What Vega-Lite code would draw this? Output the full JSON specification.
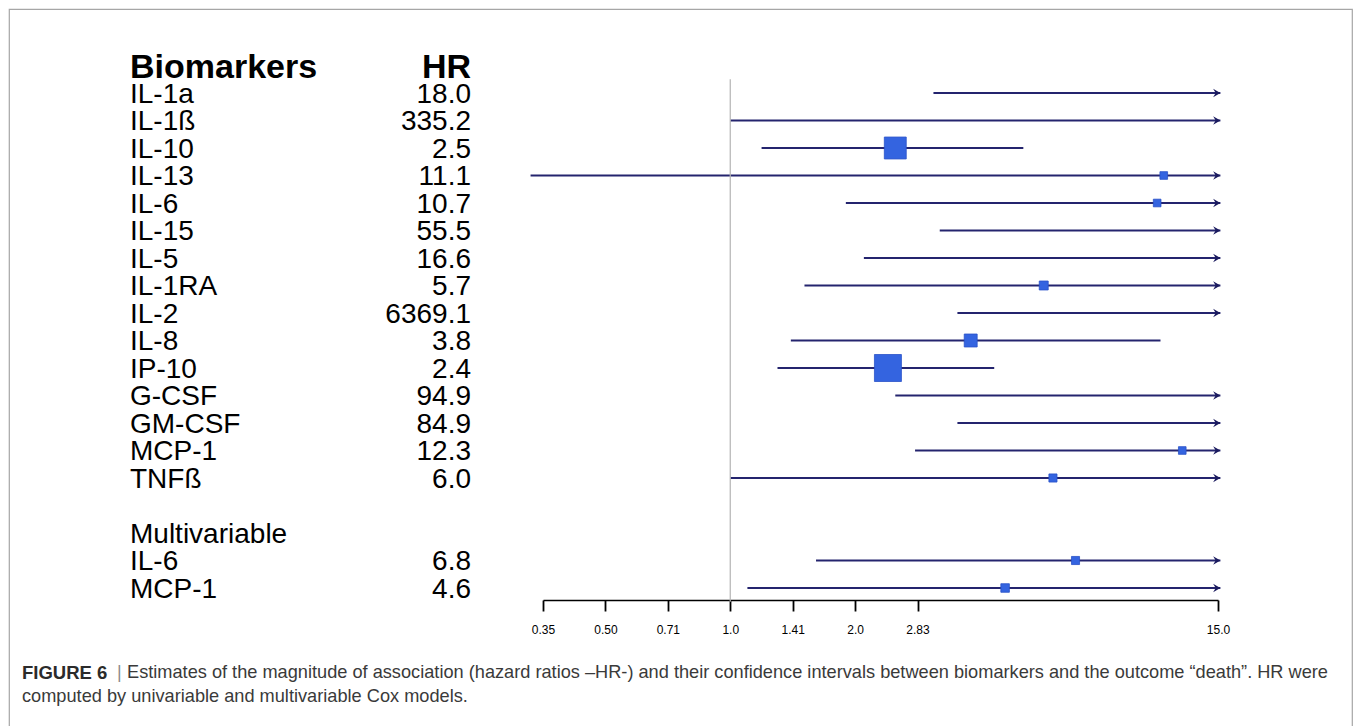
{
  "$schema": "https://vega.github.io/schema/vega-lite/v6.json",
  "width": 1343,
  "height": 740,
  "autosize": "none",
  "padding": {"left": 9, "top": 9, "right": 3, "bottom": 0},
  "background": "white",
  "config": {
    "view": {"stroke": "#a6a6a6", "strokeWidth": 1.2},
    "font": "Liberation Sans"
  },
  "datasets": {
    "rows": [
      {"id": "header", "label": "Biomarkers", "kind": "header"},
      {"id": "IL-1a", "label": "IL-1a", "kind": "item", "est": 18.0, "lo": 3.09, "open": true},
      {"id": "IL-1ß", "label": "IL-1ß", "kind": "item", "est": 335.2, "lo": 1.0, "open": true},
      {"id": "IL-10", "label": "IL-10", "kind": "item", "est": 2.5, "lo": 1.19, "hi": 5.09, "open": false, "w": 0.66},
      {"id": "IL-13", "label": "IL-13", "kind": "item", "est": 11.1, "lo": 0.33, "open": true, "w": 0.08},
      {"id": "IL-6", "label": "IL-6", "kind": "item", "est": 10.7, "lo": 1.9, "open": true, "w": 0.08},
      {"id": "IL-15", "label": "IL-15", "kind": "item", "est": 55.5, "lo": 3.2, "open": true},
      {"id": "IL-5", "label": "IL-5", "kind": "item", "est": 16.6, "lo": 2.1, "open": true},
      {"id": "IL-1RA", "label": "IL-1RA", "kind": "item", "est": 5.7, "lo": 1.51, "open": true, "w": 0.11},
      {"id": "IL-2", "label": "IL-2", "kind": "item", "est": 6369.1, "lo": 3.53, "open": true},
      {"id": "IL-8", "label": "IL-8", "kind": "item", "est": 3.8, "lo": 1.4, "hi": 10.9, "open": false, "w": 0.23},
      {"id": "IP-10", "label": "IP-10", "kind": "item", "est": 2.4, "lo": 1.3, "hi": 4.33, "open": false, "w": 1.0},
      {"id": "G-CSF", "label": "G-CSF", "kind": "item", "est": 94.9, "lo": 2.5, "open": true},
      {"id": "GM-CSF", "label": "GM-CSF", "kind": "item", "est": 84.9, "lo": 3.53, "open": true},
      {"id": "MCP-1", "label": "MCP-1", "kind": "item", "est": 12.3, "lo": 2.79, "open": true, "w": 0.08},
      {"id": "TNFß", "label": "TNFß", "kind": "item", "est": 6.0, "lo": 1.0, "open": true, "w": 0.09},
      {"id": "Multivariable", "label": "Multivariable", "kind": "section"},
      {"id": "IL-6 (multi)", "label": "IL-6", "kind": "item", "est": 6.8, "lo": 1.61, "open": true, "w": 0.09},
      {"id": "MCP-1 (multi)", "label": "MCP-1", "kind": "item", "est": 4.6, "lo": 1.1, "open": true, "w": 0.1}
    ],
    "caption": [
      {"line": "1", "part": "bold", "text": "FIGURE 6"},
      {"line": "1", "part": "bar", "text": "|"},
      {"line": "1", "part": "body", "text": "Estimates of the magnitude of association (hazard ratios –HR-) and their confidence intervals between biomarkers and the outcome “death”. HR were"},
      {"line": "2", "part": "first", "text": "computed by univariable and multivariable Cox models."}
    ]
  },
  "layer": [
    {
      "data": {"name": "rows"},
      "encoding": {
        "y": {
          "field": "id",
          "type": "nominal",
          "sort": null,
          "axis": null,
          "scale": {
            "type": "band",
            "domain": ["header", "IL-1a", "IL-1ß", "IL-10", "IL-13", "IL-6", "IL-15", "IL-5", "IL-1RA", "IL-2", "IL-8", "IP-10", "G-CSF", "GM-CSF", "MCP-1", "TNFß", "gap", "Multivariable", "IL-6 (multi)", "MCP-1 (multi)"],
            "range": [42.75, 592.75],
            "paddingInner": 0,
            "paddingOuter": 0
          }
        }
      },
      "layer": [
        {
          "layer": [
            {
              "transform": [{"filter": "datum.kind == 'item' && !datum.open"}],
              "mark": {"type": "rule", "color": "#24246e", "strokeWidth": 2},
              "encoding": {
                "x": {
                  "field": "lo",
                  "type": "quantitative",
                  "scale": {"type": "log", "base": 2, "domain": [0.3536, 15], "range": [534, 1209], "nice": false, "zero": false},
                  "axis": {
                    "orient": "bottom",
                    "offset": -149,
                    "title": null,
                    "grid": false,
                    "values": [0.3536, 0.5, 0.7071, 1, 1.4142, 2, 2.8284, 15],
                    "labelExpr": "datum.value == 1 || datum.value == 2 || datum.value == 15 ? format(datum.value, '.1f') : format(datum.value, '.2f')",
                    "domainColor": "#000000",
                    "domainWidth": 1.6,
                    "tickColor": "#000000",
                    "tickWidth": 1.8,
                    "tickSize": 11,
                    "labelFont": "Liberation Sans Narrow, Liberation Sans",
                    "labelFontSize": 12,
                    "labelColor": "#000000",
                    "labelPadding": 13,
                    "labelFlush": false,
                    "labelOverlap": false
                  }
                },
                "x2": {"field": "hi"}
              }
            },
            {
              "transform": [{"filter": "datum.kind == 'item' && datum.open"}],
              "mark": {"type": "rule", "color": "#24246e", "strokeWidth": 2},
              "encoding": {
                "x": {"field": "lo", "type": "quantitative"},
                "x2": {"datum": 15.2}
              }
            },
            {
              "transform": [{"filter": "datum.kind == 'item' && datum.open"}],
              "mark": {"type": "point", "shape": "M -1 -0.6 L 0 0 L -1 0.6 L -0.65 0 Z", "filled": true, "color": "#1a1a5e", "opacity": 1, "size": 210},
              "encoding": {
                "x": {"datum": 15.2, "type": "quantitative"}
              }
            },
            {
              "data": {"values": [{}]},
              "mark": {"type": "rule", "color": "#b4b4b4", "strokeWidth": 1.2},
              "encoding": {
                "x": {"datum": 1, "type": "quantitative"},
                "y": {"datum": "IL-1a", "type": "nominal", "bandPosition": 0},
                "y2": {"datum": "MCP-1 (multi)", "bandPosition": 1}
              }
            },
            {
              "transform": [{"filter": "datum.kind == 'item' && datum.est <= 15"}],
              "mark": {"type": "point", "shape": "square", "filled": true, "color": "#3464e0", "opacity": 1, "stroke": "#2a52c8", "strokeWidth": 0.8},
              "encoding": {
                "x": {"field": "est", "type": "quantitative"},
                "size": {"field": "w", "type": "quantitative", "legend": null, "scale": {"domain": [0, 1], "range": [0, 729]}}
              }
            }
          ]
        },
        {
          "layer": [
            {
              "transform": [{"filter": "datum.kind != 'header'"}],
              "mark": {"type": "text", "align": "left", "baseline": "middle", "fontSize": 28, "color": "#000000", "dy": 1.5},
              "encoding": {
                "x": {"datum": "label", "type": "nominal", "axis": null, "scale": {"type": "point", "domain": ["label", "hr"], "range": [121, 462], "padding": 0}},
                "text": {"field": "label"}
              }
            },
            {
              "transform": [{"filter": "datum.kind == 'item'"}],
              "mark": {"type": "text", "align": "right", "baseline": "middle", "fontSize": 28, "color": "#000000", "dy": 1.5},
              "encoding": {
                "x": {"datum": "hr", "type": "nominal"},
                "text": {"field": "est", "type": "quantitative", "format": ".1f"}
              }
            },
            {
              "transform": [{"filter": "datum.kind == 'header'"}],
              "mark": {"type": "text", "align": "left", "baseline": "middle", "fontSize": 34, "fontWeight": "bold", "color": "#000000", "dy": 2},
              "encoding": {
                "x": {"datum": "label", "type": "nominal"},
                "text": {"field": "label"}
              }
            },
            {
              "transform": [{"filter": "datum.kind == 'header'"}],
              "mark": {"type": "text", "align": "right", "baseline": "middle", "fontSize": 34, "fontWeight": "bold", "color": "#000000", "dy": 2},
              "encoding": {
                "x": {"datum": "hr", "type": "nominal"},
                "text": {"value": "HR"}
              }
            }
          ]
        }
      ],
      "resolve": {"scale": {"x": "independent"}}
    },
    {
      "data": {"name": "caption"},
      "encoding": {
        "y": {"field": "line", "type": "nominal", "axis": null, "scale": {"type": "point", "domain": ["1", "2"], "range": [664, 688], "padding": 0}},
        "x": {"datum": "start", "type": "nominal", "axis": null, "scale": {"type": "point", "domain": ["start", "end"], "range": [13, 1330], "padding": 0}},
        "text": {"field": "text"}
      },
      "layer": [
        {
          "transform": [{"filter": "datum.part == 'bold'"}],
          "mark": {"type": "text", "align": "left", "baseline": "middle", "fontSize": 18.5, "fontWeight": "bold", "color": "#2b2b2b"}
        },
        {
          "transform": [{"filter": "datum.part == 'bar'"}],
          "mark": {"type": "text", "align": "left", "baseline": "middle", "fontSize": 18, "color": "#8c8c8c", "dx": 95}
        },
        {
          "transform": [{"filter": "datum.part == 'body'"}],
          "mark": {"type": "text", "align": "left", "baseline": "middle", "fontSize": 18.2, "color": "#3a3a3a", "dx": 105}
        },
        {
          "transform": [{"filter": "datum.part == 'first'"}],
          "mark": {"type": "text", "align": "left", "baseline": "middle", "fontSize": 18.2, "color": "#3a3a3a"}
        }
      ]
    }
  ],
  "resolve": {"scale": {"x": "independent", "y": "independent"}}
}
